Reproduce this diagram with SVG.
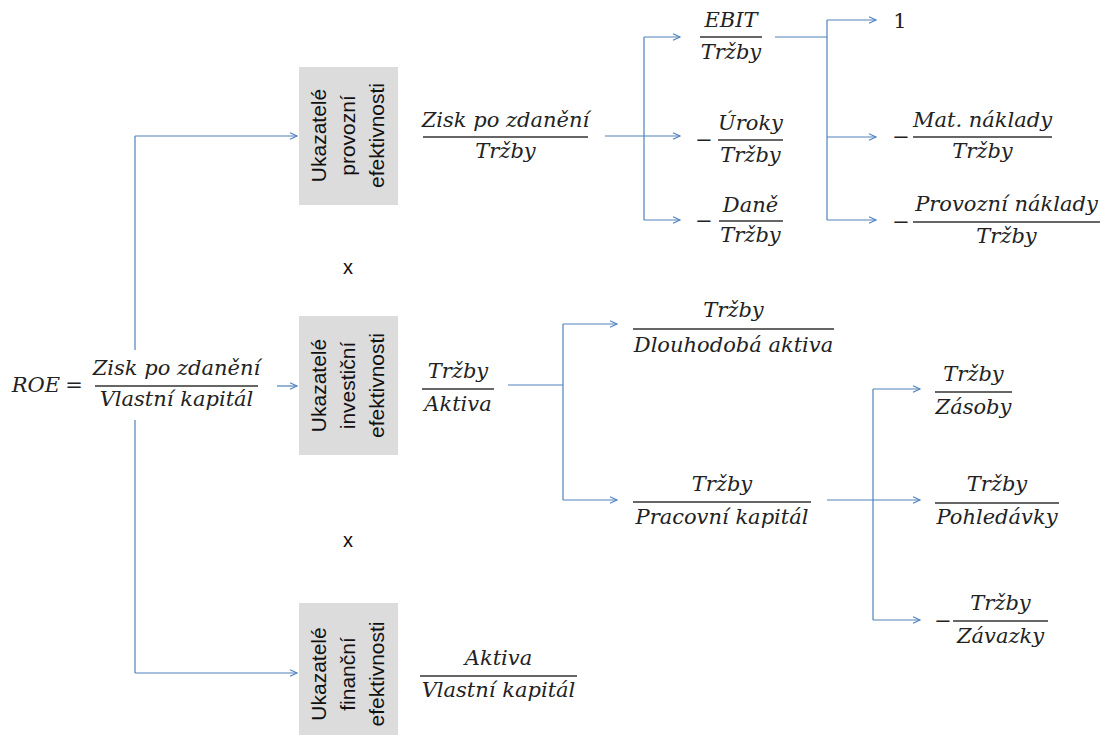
<svg xmlns="http://www.w3.org/2000/svg" width="1107" height="735" viewBox="0 0 1107 735">
<style>
.m{font-family:"DejaVu Serif","Liberation Serif",serif;font-style:italic;font-size:21px;fill:#222;text-anchor:middle}
.u{font-family:"DejaVu Serif","Liberation Serif",serif;font-size:21px;fill:#222;text-anchor:middle}
.fl{stroke:#333;stroke-width:1.3}
.c{stroke:#4f81bd;stroke-width:1.2;fill:none}
.a{stroke:#4f81bd;stroke-width:1.2;fill:none;marker-end:url(#ah)}
.box{fill:#dddcdd}
.b{font-family:"Liberation Sans",Arial,sans-serif;font-size:21px;fill:#111;text-anchor:middle}
.x{font-family:"Liberation Sans",Arial,sans-serif;font-size:20px;fill:#111;text-anchor:middle}
</style>
<defs>
<marker id="ah" markerUnits="userSpaceOnUse" markerWidth="10" markerHeight="10" refX="8" refY="4" orient="auto">
<path d="M1,0.8 L8,4 L1,7.2" fill="none" stroke="#4f81bd" stroke-width="1.1"/>
</marker>
</defs>
<rect width="1107" height="735" fill="#fff"/>

<g id="connectors">
<path class="c" d="M135,350 V136"/>
<path class="a" d="M135,136 H297"/>
<path class="a" d="M277,386 H297"/>
<path class="c" d="M135,420 V673"/>
<path class="a" d="M135,673 H297"/>
<path class="a" d="M605,136 H680"/>
<path class="c" d="M644,37 V220"/>
<path class="a" d="M644,37 H680"/>
<path class="a" d="M644,220 H680"/>
<path class="c" d="M775,37 H827"/>
<path class="c" d="M827,20 V220"/>
<path class="a" d="M827,20 H876"/>
<path class="a" d="M827,137 H876"/>
<path class="a" d="M827,220 H876"/>
<path class="c" d="M508,385 H563"/>
<path class="c" d="M563,324 V500"/>
<path class="a" d="M563,324 H617"/>
<path class="a" d="M563,500 H617"/>
<path class="c" d="M827,500 H873"/>
<path class="c" d="M873,389 V620"/>
<path class="a" d="M873,389 H920"/>
<path class="a" d="M873,500 H920"/>
<path class="a" d="M873,620 H920"/>
</g>

<g id="roe">
<text class="m" x="36" y="392">ROE</text>
<text class="u" x="74" y="392">=</text>
<line class="fl" x1="95" y1="386" x2="258" y2="386"/>
<text class="m" x="176.5" y="375">Zisk po zdanění</text>
<text class="m" x="176.5" y="406">Vlastní kapitál</text>
</g>

<g id="box-provozni">
<rect class="box" x="299" y="67" width="99" height="138"/>
<text class="b" transform="translate(0,135.5) rotate(-90)"><tspan x="0" y="326">Ukazatelé</tspan><tspan x="0" y="355">provozní</tspan><tspan x="0" y="384">efektivnosti</tspan></text>
</g>
<g id="box-investicni">
<rect class="box" x="299" y="316" width="99" height="139"/>
<text class="b" transform="translate(0,385.5) rotate(-90)"><tspan x="0" y="326">Ukazatelé</tspan><tspan x="0" y="355">investiční</tspan><tspan x="0" y="384">efektivnosti</tspan></text>
</g>
<g id="box-financni">
<rect class="box" x="299" y="603" width="99" height="140"/>
<text class="b" transform="translate(0,674) rotate(-90)"><tspan x="0" y="326">Ukazatelé</tspan><tspan x="0" y="355">finanční</tspan><tspan x="0" y="384">efektivnosti</tspan></text>
</g>

<g id="x1"><text class="x" x="348" y="274">x</text></g>
<g id="x2"><text class="x" x="348" y="547">x</text></g>

<g id="f-zisk-trzby">
<text class="m" x="505.5" y="127">Zisk po zdanění</text>
<line class="fl" x1="423" y1="137" x2="588" y2="137"/>
<text class="m" x="505.5" y="158">Tržby</text>
</g>
<g id="f-ebit">
<text class="m" x="731" y="27">EBIT</text>
<line class="fl" x1="700" y1="37" x2="762" y2="37"/>
<text class="m" x="731" y="59">Tržby</text>
</g>
<g id="f-uroky">
<text class="u" x="704" y="147">−</text>
<text class="m" x="750.5" y="130">Úroky</text>
<line class="fl" x1="718" y1="140" x2="783" y2="140"/>
<text class="m" x="750.5" y="162">Tržby</text>
</g>
<g id="f-dane">
<text class="u" x="704" y="228">−</text>
<text class="m" x="750.5" y="212">Daně</text>
<line class="fl" x1="719" y1="221" x2="783" y2="221"/>
<text class="m" x="750.5" y="242">Tržby</text>
</g>
<g id="one"><text class="u" x="900" y="28">1</text></g>
<g id="f-mat">
<text class="u" x="901" y="144">−</text>
<text class="m" x="982.5" y="127">Mat. náklady</text>
<line class="fl" x1="913" y1="137" x2="1052" y2="137"/>
<text class="m" x="982.5" y="158">Tržby</text>
</g>
<g id="f-provozni">
<text class="u" x="901" y="229">−</text>
<text class="m" x="1006.5" y="211">Provozní náklady</text>
<line class="fl" x1="913" y1="222" x2="1100" y2="222"/>
<text class="m" x="1006.5" y="243">Tržby</text>
</g>
<g id="f-trzby-aktiva">
<text class="m" x="458" y="378">Tržby</text>
<line class="fl" x1="422" y1="389" x2="494" y2="389"/>
<text class="m" x="458" y="411">Aktiva</text>
</g>
<g id="f-dlouhodoba">
<text class="m" x="733.5" y="317">Tržby</text>
<line class="fl" x1="633" y1="329" x2="834" y2="329"/>
<text class="m" x="733.5" y="352">Dlouhodobá aktiva</text>
</g>
<g id="f-pracovni">
<text class="m" x="722" y="491">Tržby</text>
<line class="fl" x1="633" y1="502" x2="811" y2="502"/>
<text class="m" x="722" y="524">Pracovní kapitál</text>
</g>
<g id="f-zasoby">
<text class="m" x="973.5" y="381">Tržby</text>
<line class="fl" x1="935" y1="392" x2="1012" y2="392"/>
<text class="m" x="973.5" y="414">Zásoby</text>
</g>
<g id="f-pohledavky">
<text class="m" x="997" y="491">Tržby</text>
<line class="fl" x1="935" y1="503" x2="1059" y2="503"/>
<text class="m" x="997" y="524">Pohledávky</text>
</g>
<g id="f-zavazky">
<text class="u" x="943" y="628">−</text>
<text class="m" x="1000.5" y="610">Tržby</text>
<line class="fl" x1="953" y1="621" x2="1048" y2="621"/>
<text class="m" x="1000.5" y="643">Závazky</text>
</g>
<g id="f-aktiva-vk">
<text class="m" x="498.5" y="665">Aktiva</text>
<line class="fl" x1="420" y1="676" x2="577" y2="676"/>
<text class="m" x="498.5" y="697">Vlastní kapitál</text>
</g>
</svg>
